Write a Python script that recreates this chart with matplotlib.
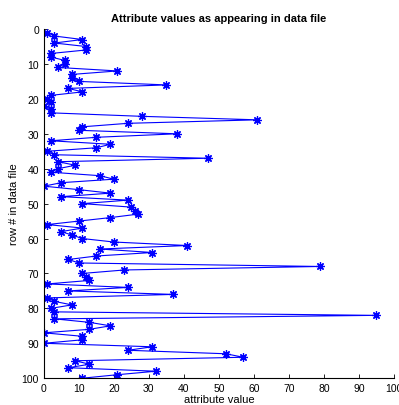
import matplotlib
matplotlib.use("Agg")
import matplotlib.pyplot as plt

# row number in the data file (1..100) and the value read at that row
rows = list(range(1, 101))
values = [
    1, 3, 11, 3, 12, 12, 2, 2, 6, 6,
    4, 21, 8, 8, 10, 35, 7, 11, 2, 1,
    2, 0, 2, 2, 28, 61, 24, 11, 10, 38,
    15, 2, 19, 15, 1, 3, 47, 4, 9, 4,
    2, 16, 20, 5, 0, 10, 19, 5, 24, 11,
    25, 26, 27, 19, 10, 1, 11, 5, 8, 11,
    20, 41, 16, 31, 15, 7, 10, 79, 23, 11,
    12, 13, 1, 24, 7, 37, 1, 3, 8, 2,
    3, 95, 3, 13, 19, 13, 0, 11, 11, 0,
    31, 24, 52, 57, 9, 13, 7, 32, 21, 11,
]

plt.rcParams['font.family'] = ['Liberation Sans', 'DejaVu Sans']

fig = plt.figure(figsize=(3.99, 4.06), dpi=100)
ax = fig.add_axes([0.110, 0.066, 0.877, 0.860])

# matlab-style asterisk marker
ax.plot(values, rows, color='blue', marker=(8, 2, 0), markersize=6,
        markeredgewidth=0.9, linewidth=0.8)

ax.set_xlim(0, 100)
ax.set_ylim(100, 0)
ax.set_xticks(range(0, 101, 10))
ax.set_yticks(range(0, 101, 10))
ax.tick_params(direction='in', length=3, labelsize=7.5, width=0.6)
for s in ['top', 'right']:
    ax.spines[s].set_visible(False)
for s in ['left', 'bottom']:
    ax.spines[s].set_linewidth(0.8)

ax.set_xlabel('attribute value', fontsize=8, labelpad=1)
ax.set_ylabel('row # in data file', fontsize=8, labelpad=2)
ax.set_title('Attribute values as appearing in data file', fontsize=8, fontweight='bold', pad=6)

fig.savefig('out.png', dpi=100)
